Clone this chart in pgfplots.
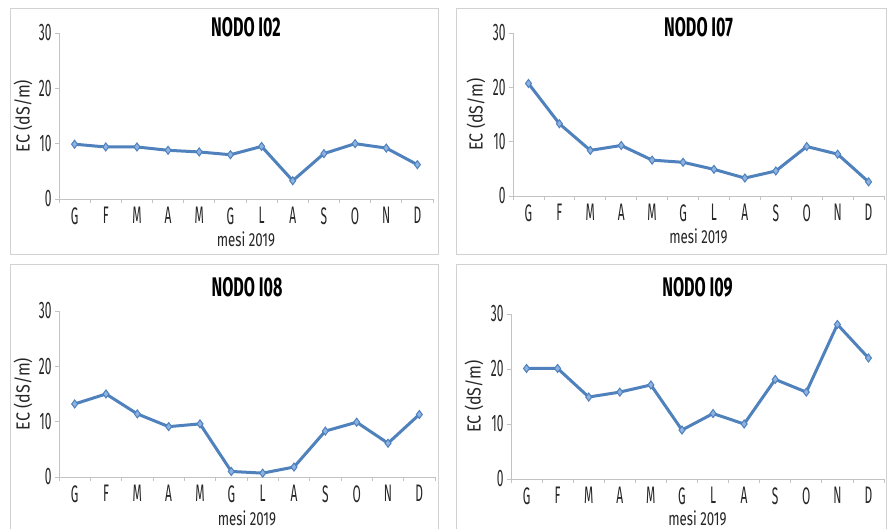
\documentclass[border=0pt]{standalone}
\usepackage{fontspec}
\setmainfont{Fira Sans}[FakeStretch=0.7]
\newfontfamily\tickfont{Fira Sans}[FakeStretch=0.5]
\newfontfamily\ylabfont{Fira Sans}[FakeStretch=0.85]
\newfontfamily\titlefont{Fira Sans}[FakeStretch=0.6]
\usepackage{pgfplots}
\pgfplotsset{compat=1.18}
\definecolor{linecol}{RGB}{79,129,189}
\definecolor{markcol}{RGB}{141,179,226}
\definecolor{axgray}{RGB}{195,195,195}
\definecolor{boxgray}{RGB}{210,210,210}

\pgfplotstableread{
x y
0 9.9
1 9.4
2 9.4
3 8.8
4 8.5
5 8.0
6 9.5
7 3.3
8 8.2
9 10.0
10 9.2
11 6.2
}\tabA
\pgfplotstableread{
x y
0 20.7
1 13.3
2 8.4
3 9.3
4 6.6
5 6.2
6 4.9
7 3.3
8 4.6
9 9.1
10 7.7
11 2.6
}\tabB
\pgfplotstableread{
x y
0 13.2
1 15.0
2 11.4
3 9.1
4 9.6
5 1.0
6 0.7
7 1.8
8 8.3
9 9.9
10 6.1
11 11.3
}\tabC
\pgfplotstableread{
x y
0 20.1
1 20.1
2 14.9
3 15.8
4 17.1
5 8.9
6 11.9
7 10.0
8 18.1
9 15.8
10 28.1
11 22.0
}\tabD

\pgfplotsset{panel/.style={
  scale only axis,
  anchor=south west,
  xmin=-0.5, xmax=11.5, ymin=0, ymax=30,
  axis x line=bottom, axis y line=left,
  axis line style={draw=axgray, line width=0.8bp, -},
  xtick={0,...,11}, xticklabels={G,F,M,A,M,G,L,A,S,O,N,D},
  major x tick style={draw=none},
  minor xtick={-0.5,0.5,...,11.5},
  minor tick length=4bp,
  major tick length=4bp,
  ytick={0,10,20,30},
  tick align=outside,
  tick style={draw=axgray, line width=0.8bp},
  ticklabel style={font=\tickfont\fontsize{24}{24}\selectfont, text=black!85},
  xticklabel style={yshift=-1bp},
  /pgf/number format/assume math mode=true,
  xlabel={mesi 2019}, ylabel={EC (dS/m)},
  xlabel style={font=\fontsize{19}{19}\selectfont, text=black!85},
  ylabel style={font=\ylabfont\fontsize{19}{19}\selectfont, text=black!85},
  title style={font=\titlefont\bfseries\fontsize{27}{27}\selectfont, anchor=center},
  clip=false,
},
ecline/.style={color=linecol, line width=3bp, mark=diamond*, mark size=4bp,
    mark options={fill=markcol, draw=linecol, line width=1bp}},
}

\begin{document}
\begin{tikzpicture}[x=1bp,y=1bp]
\path[use as bounding box] (0,0) rectangle (896,529);
\fill[white] (0,0) rectangle (896,529);
\draw[boxgray, line width=1bp] (10,520) rectangle (438,274);
\draw[boxgray, line width=1bp] (456,520) rectangle (886,274);
\draw[boxgray, line width=1bp] (10,264) rectangle (438,-20);
\draw[boxgray, line width=1bp] (456,264) rectangle (886,-20);

\begin{axis}[panel, at={(59bp,330bp)}, width=374bp, height=166bp,
  title={NODO I02}, title style={at={(0.5,1)}},
  xlabel style={at={([yshift=-40bp]axis description cs:0.5,0)}, anchor=center},
  ylabel style={at={([xshift=-36bp]axis description cs:0,0.5)}, anchor=center}]
\addplot[ecline] table[x=x,y=y] {\tabA};
\end{axis}

\begin{axis}[panel, at={(513bp,333bp)}, width=371bp, height=163bp,
  title={NODO I07}, title style={at={(0.5,1)}},
  xlabel style={at={([yshift=-40bp]axis description cs:0.5,0)}, anchor=center},
  ylabel style={at={([xshift=-37bp]axis description cs:0,0.5)}, anchor=center}]
\addplot[ecline] table[x=x,y=y] {\tabB};
\end{axis}

\begin{axis}[panel, at={(59bp,52bp)}, width=376bp, height=166bp,
  title={NODO I08}, title style={at={([yshift=18bp]axis description cs:0.5,1)}},
  xlabel style={at={([yshift=-41bp]axis description cs:0.5,0)}, anchor=center},
  ylabel style={at={([xshift=-36bp]axis description cs:0,0.5)}, anchor=center}]
\addplot[ecline] table[x=x,y=y] {\tabC};
\end{axis}

\begin{axis}[panel, at={(511bp,50bp)}, width=373bp, height=165bp,
  title={NODO I09}, title style={at={([yshift=21bp]axis description cs:0.5,1)}},
  xlabel style={at={([yshift=-39bp]axis description cs:0.5,0)}, anchor=center},
  ylabel style={at={([xshift=-37bp]axis description cs:0,0.5)}, anchor=center}]
\addplot[ecline] table[x=x,y=y] {\tabD};
\end{axis}
\end{tikzpicture}
\end{document}
